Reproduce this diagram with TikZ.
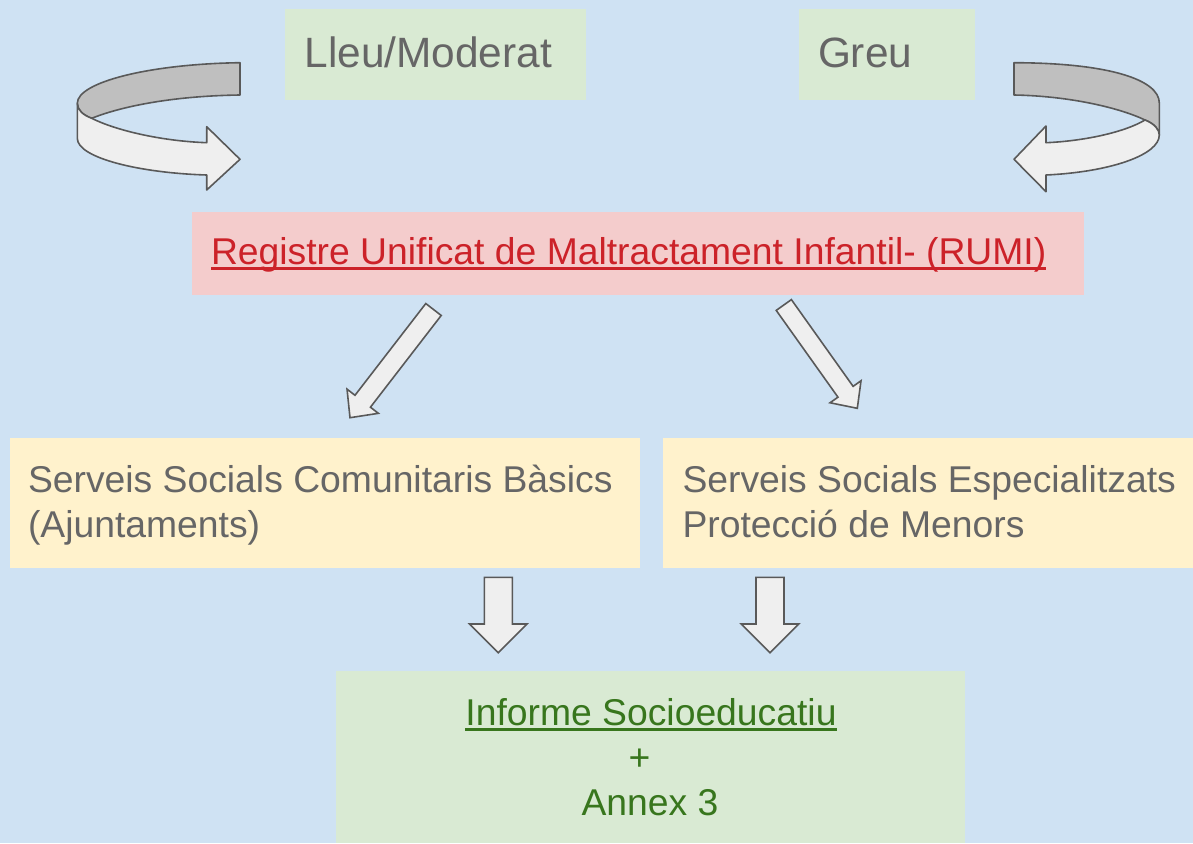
\documentclass[tikz,border=0pt]{standalone}
\usepackage{fontspec}
\setmainfont{Liberation Sans}
\usetikzlibrary{calc}
\definecolor{bgblue}{HTML}{CFE2F3}
\definecolor{lgreen}{HTML}{D9EAD3}
\definecolor{lred}{HTML}{F4CCCC}
\definecolor{lyellow}{HTML}{FFF2CC}
\definecolor{txtgray}{HTML}{666666}
\definecolor{txtred}{HTML}{CC2229}
\definecolor{txtgreen}{HTML}{38761D}
\definecolor{arrline}{HTML}{595959}
\definecolor{arrfill}{HTML}{EFEFEF}
\definecolor{arrdark}{HTML}{BFBFBF}
\newcommand{\blockarr}[5]{%
  \coordinate (ba-n) at ($(#2)!#5!(#1)$);
  \filldraw[barrow] ($(#1)!#3!90:(#2)$) -- ($(ba-n)!#3!90:(#2)$) -- ($(ba-n)!#4!90:(#2)$) -- (#2)
    -- ($(ba-n)!#4!-90:(#2)$) -- ($(ba-n)!#3!-90:(#2)$) -- ($(#1)!#3!-90:(#2)$) -- cycle;
}
\begin{document}
\begin{tikzpicture}[x=1pt,y=-1pt,
  box/.style={rectangle, draw=none, inner sep=0pt, outer sep=0pt, anchor=north west},
  txt/.style={inner sep=0pt, outer sep=0pt, anchor=base west},
  bigtxt/.style={txt, font=\fontsize{42.4}{50}\selectfont, text=txtgray},
  midtxt/.style={txt, font=\fontsize{37.3}{45}\selectfont},
  barrow/.style={draw=arrline, fill=arrfill, line width=1.6pt, line join=miter},
  curv/.style={draw=arrline, line width=1.6pt, line join=round}]
\fill[bgblue] (0,0) rectangle (1193,843);
\useasboundingbox (0,0) rectangle (1193,843);

% boxes
\node[box, fill=lgreen, minimum width=300.7pt, minimum height=90.7pt] (lleu) at (285.3,9.3) {};
\node[box, fill=lgreen, minimum width=175.7pt, minimum height=90.7pt] (greu) at (799.3,9.3) {};
\node[box, fill=lred, minimum width=892pt, minimum height=83pt] (rumi) at (192,212) {};
\node[box, fill=lyellow, minimum width=630pt, minimum height=129.2pt] (ssb) at (10,438.3) {};
\node[box, fill=lyellow, minimum width=529.7pt, minimum height=129.2pt] (sse) at (663.3,438.3) {};
\node[box, fill=lgreen, minimum width=629pt, minimum height=172pt] (inf) at (336,671) {};

% texts
\node[bigtxt] (lleutxt) at (304.5,67.7) {Lleu/Moderat};
\node[bigtxt] (greutxt) at (818,67.7) {Greu};
\node[midtxt, text=txtred] (rumitxt) at (211,264) {Registre Unificat de Maltractament Infantil- (RUMI)};
\draw[txtred, line width=3pt] ($(rumitxt.base west)+(0,4.7)$) -- ($(rumitxt.base east)+(0,4.7)$);
\node[midtxt, text=txtgray] (ssb1) at (28,492) {Serveis Socials Comunitaris Bàsics};
\node[midtxt, text=txtgray] (ssb2) at (28,537) {(Ajuntaments)};
\node[midtxt, text=txtgray] (sse1) at (682.5,492) {Serveis Socials Especialitzats};
\node[midtxt, text=txtgray] (sse2) at (682.5,537) {Protecció de Menors};
\node[midtxt, text=txtgreen, anchor=base] (inf1) at (651,725) {Informe Socioeducatiu};
\draw[txtgreen, line width=3pt] ($(inf1.base west)+(0,4.4)$) -- ($(inf1.base east)+(0,4.4)$);
\node[midtxt, text=txtgreen, anchor=base] (inf2) at (639.5,770) {+};
\node[midtxt, text=txtgreen, anchor=base] (inf3) at (650,815) {Annex 3};

% curved arrow left
\filldraw[curv, fill=arrdark] (240,62.7) .. controls (150,64) and (77.3,82) .. (77.3,103.3)
  .. controls (77.3,110) and (83,115) .. (91.7,118.3)
  .. controls (120,107) and (170,96) .. (240,95) -- cycle;
\filldraw[curv, fill=arrfill] (77.3,103.3) -- (77.3,138.3)
  .. controls (77.3,158) and (140,173) .. (206.7,175) -- (206.7,190) -- (240,159.3) -- (206.7,126.7) -- (206.7,142.7)
  .. controls (160,141) and (115,130) .. (91.7,118.3)
  .. controls (83,115) and (77.3,110) .. (77.3,103.3) -- cycle;

% curved arrow right
\filldraw[curv, fill=arrdark] (1014,62.7) .. controls (1110,63) and (1159.3,80) .. (1159.3,103) -- (1159.3,135)
  .. controls (1159.3,130) and (1155,124) .. (1145,120)
  .. controls (1120,108) and (1070,96) .. (1014,95) -- cycle;
\filldraw[curv, fill=arrfill] (1145,120) .. controls (1125,132) and (1085,141) .. (1046,142.7) -- (1046,126) -- (1014,159.3) -- (1046,191.7) -- (1046,175)
  .. controls (1110,172) and (1159.3,155) .. (1159.3,135)
  .. controls (1159.3,130) and (1155,124) .. (1145,120) -- cycle;

% block arrows
\coordinate (d1t) at (433.5,309.5);
\coordinate (d1h) at (350,417.7);
\coordinate (d2t) at (783.8,305);
\coordinate (d2h) at (857.3,408.3);
\coordinate (v1t) at (498.3,577.3);
\coordinate (v1h) at (498.3,652.7);
\coordinate (v2t) at (770,577.3);
\coordinate (v2h) at (770,652.7);
\blockarr{d1t}{d1h}{9.75pt}{19.8pt}{20.8pt}
\blockarr{d2t}{d2h}{9.3pt}{19pt}{20.3pt}
\blockarr{v1t}{v1h}{14pt}{28.7pt}{28.7pt}
\blockarr{v2t}{v2h}{14pt}{28.8pt}{28.7pt}
\end{tikzpicture}
\end{document}
